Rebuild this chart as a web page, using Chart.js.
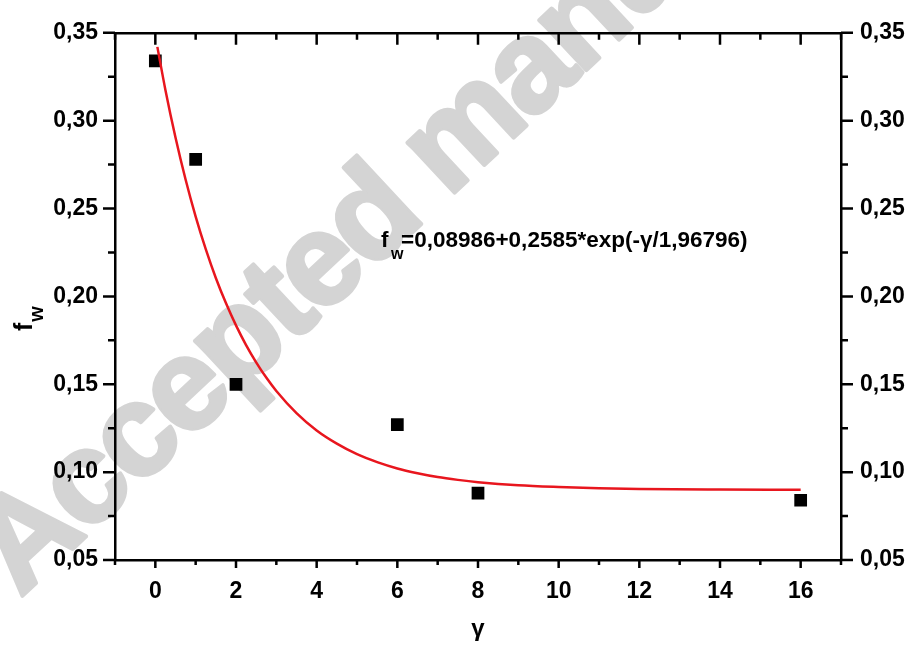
<!DOCTYPE html>
<html>
<head>
<meta charset="utf-8">
<script src="https://cdn.jsdelivr.net/npm/chart.js@4.4.0/dist/chart.umd.min.js"></script>
<style>
  html, body { margin: 0; padding: 0; background: #fff; }
  #wrap { width: 914px; height: 647px; }
</style>
</head>
<body>
<div id="wrap"><canvas id="fwChart"></canvas></div>
<script>
// measured points
const gammaValues = [0, 1, 2, 6, 8, 16];
const fwValues = [0.334, 0.278, 0.150, 0.127, 0.088, 0.084];

// red fit curve
const fitGamma = [0.05, 0.25, 0.5, 0.75, 1, 1.25, 1.5, 1.75, 2, 2.25, 2.5, 2.75, 3, 3.5, 4, 4.5, 5, 5.5, 6, 6.5, 7, 7.5, 8, 9, 10, 11, 12, 14, 16];
const fitFw = [0.342, 0.3175, 0.2904, 0.2665, 0.2454, 0.2269, 0.2105, 0.1962, 0.1835, 0.1723, 0.1625, 0.1538, 0.1462, 0.1336, 0.1237, 0.1162, 0.1102, 0.1057, 0.1021, 0.0994, 0.0972, 0.0956, 0.0943, 0.0925, 0.0915, 0.0908, 0.0904, 0.0901, 0.0900];

const xTickValues = [0, 2, 4, 6, 8, 10, 12, 14, 16];
const yTickValues = [0.05, 0.10, 0.15, 0.20, 0.25, 0.30, 0.35];

const fitText = '=0,08986+0,2585*exp(-\u03b3/1,96796)';
const watermark = 'Accepted manuscript';

const FONT = '"Liberation Sans", Arial, sans-serif';
const tickFont = { family: FONT, size: 23, weight: 'bold' };

function fmtY(v) { return v.toFixed(2).replace('.', ','); }

// watermark behind everything
const watermarkPlugin = {
  id: 'watermark',
  beforeDraw(chart) {
    const c = chart.ctx;
    c.save();
    c.translate(20, 598);
    c.rotate(-43 * Math.PI / 180);
    c.font = 'bold 130px ' + FONT;
    c.letterSpacing = '-4px';
    c.fillStyle = '#d4d4d4';
    c.strokeStyle = '#d4d4d4';
    c.lineWidth = 4;
    c.lineJoin = 'round';
    c.textBaseline = 'alphabetic';
    c.strokeText(watermark, 0, 0);
    c.fillText(watermark, 0, 0);
    c.restore();
  }
};

// tick marks, titles and the fit equation
const decorPlugin = {
  id: 'decor',
  afterDraw(chart) {
    const c = chart.ctx;
    const a = chart.chartArea;
    const xs = chart.scales.x, ys = chart.scales.y;
    c.save();
    c.strokeStyle = '#000';
    c.lineWidth = 2.5;
    c.beginPath();
    for (let v = -1; v <= 17; v++) {
      const px = xs.getPixelForValue(v);
      const major = v % 2 === 0;
      // bottom, outward
      c.moveTo(px, a.bottom);
      c.lineTo(px, a.bottom + (major ? 8 : 5));
      // top, inward
      c.moveTo(px, a.top);
      c.lineTo(px, a.top + (major ? 12 : 7));
    }
    for (let i = 0; i <= 12; i++) {
      const v = 0.05 + i * 0.025;
      const py = ys.getPixelForValue(v);
      const len = i % 2 === 0 ? 12 : 7;
      c.moveTo(a.left, py);
      c.lineTo(a.left - len, py);
      c.moveTo(a.right, py);
      c.lineTo(a.right + len, py);
    }
    c.stroke();

    c.fillStyle = '#000';
    c.textBaseline = 'alphabetic';

    // x title
    c.font = 'bold 24px ' + FONT;
    c.textAlign = 'center';
    c.fillText('\u03b3', (a.left + a.right) / 2, 636);

    // y title, rotated
    c.save();
    c.translate(32, 331);
    c.rotate(-Math.PI / 2);
    c.textAlign = 'left';
    c.font = 'bold 25px ' + FONT;
    c.fillText('f', 0, 0);
    const fw = c.measureText('f').width;
    c.font = 'bold 20px ' + FONT;
    c.fillText('w', fw + 1, 11);
    c.restore();

    // equation
    c.textAlign = 'left';
    c.font = 'bold 22.5px ' + FONT;
    c.fillText('f', 381, 247);
    c.font = 'bold 16px ' + FONT;
    c.fillText('w', 391, 259);
    c.font = 'bold 22.5px ' + FONT;
    c.fillText(fitText, 401, 247);
    c.restore();
  }
};

const ctx = document.getElementById('fwChart');

const fwChart = new Chart(ctx, {
  type: 'scatter',
  data: {
    datasets: [{
      label: 'fw',
      data: gammaValues.map((g, i) => ({ x: g, y: fwValues[i] })),
      pointStyle: 'rect',
      pointRadius: 9,
      backgroundColor: '#000',
      borderWidth: 0,
      order: 2
    }, {
      label: 'fit',
      data: fitGamma.map((g, i) => ({ x: g, y: fitFw[i] })),
      showLine: true,
      pointRadius: 0,
      borderColor: 'rgb(232,22,30)',
      borderWidth: 2.5,
      cubicInterpolationMode: 'monotone',
      order: 1
    }]
  },
  options: {
    responsive: true,
    maintainAspectRatio: false,
    animation: false,
    layout: { padding: 0 },
    plugins: {
      legend: { display: false },
      tooltip: { enabled: false }
    },
    scales: {
      x: {
        type: 'linear',
        position: 'bottom',
        min: -1,
        max: 17,
        afterBuildTicks: s => { s.ticks = xTickValues.map(v => ({ value: v })); },
        afterFit: s => { s.height = 87; },
        grid: { display: false, drawTicks: false },
        border: { color: '#000', width: 2.5 },
        ticks: { font: tickFont, color: '#000', padding: 18, maxRotation: 0, callback: v => String(v) }
      },
      x2: {
        type: 'linear',
        position: 'top',
        min: -1,
        max: 17,
        afterFit: s => { s.height = 23; },
        grid: { display: false, drawTicks: false },
        border: { color: '#000', width: 2.5 },
        ticks: { display: false }
      },
      y: {
        type: 'linear',
        position: 'left',
        min: 0.05,
        max: 0.35,
        afterBuildTicks: s => { s.ticks = yTickValues.map(v => ({ value: v })); },
        afterFit: s => { s.width = 115; },
        grid: { display: false, drawTicks: false },
        border: { color: '#000', width: 2.5 },
        ticks: { font: tickFont, color: '#000', padding: 17, callback: v => fmtY(v) }
      },
      y2: {
        type: 'linear',
        position: 'right',
        min: 0.05,
        max: 0.35,
        afterBuildTicks: s => { s.ticks = yTickValues.map(v => ({ value: v })); },
        afterFit: s => { s.width = 73; },
        grid: { display: false, drawTicks: false },
        border: { color: '#000', width: 2.5 },
        ticks: { font: tickFont, color: '#000', padding: 19, callback: v => fmtY(v) }
      }
    }
  },
  plugins: [watermarkPlugin, decorPlugin]
});
</script>
</body>
</html>
